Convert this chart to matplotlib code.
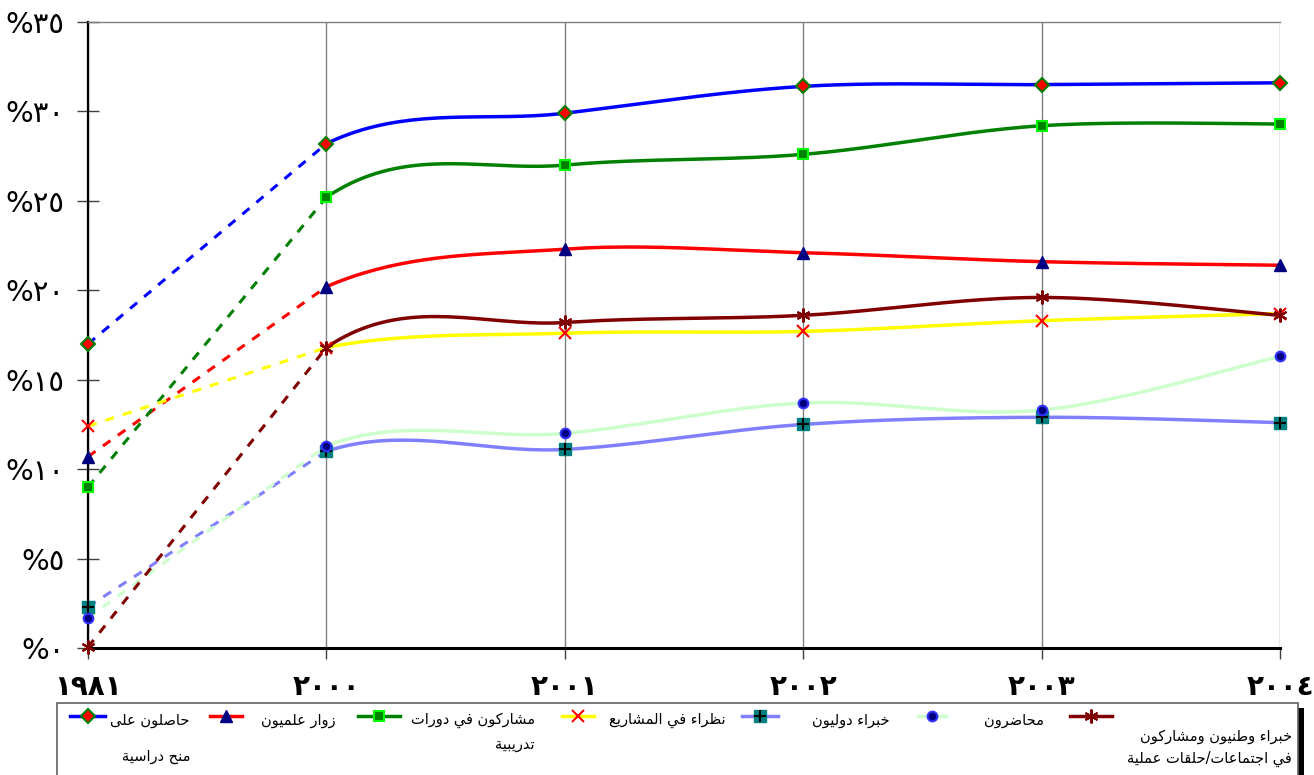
import numpy as np
import matplotlib
matplotlib.use("Agg")
import matplotlib.pyplot as plt
from matplotlib.lines import Line2D
from matplotlib.patches import Rectangle

# --- data -----------------------------------------------------------------
years = ["١٩٨١", "٢٠٠٠", "٢٠٠١", "٢٠٠٢", "٢٠٠٣", "٢٠٠٤"]

scholarship = [17.0, 28.2, 29.9, 31.4, 31.5, 31.6]
visitors = [10.7, 20.2, 22.3, 22.1, 21.6, 21.4]
training = [9.0, 25.2, 27.0, 27.6, 29.2, 29.3]
counterparts = [12.4, 16.8, 17.6, 17.7, 18.3, 18.7]
intl_experts = [2.3, 11.0, 11.1, 12.5, 12.9, 12.6]
lecturers = [1.7, 11.3, 12.0, 13.7, 13.3, 16.3]
national = [0.05, 16.8, 18.2, 18.6, 19.6, 18.6]

labels = [
    ["حاصلون على", "منح دراسية"],
    ["زوار علميون"],
    ["مشاركون في دورات", "تدريبية"],
    ["نظراء في المشاريع"],
    ["خبراء دوليون"],
    ["محاضرون"],
    ["خبراء وطنيون ومشاركون", "في اجتماعات/حلقات عملية"],
]

y_ticks = [0, 5, 10, 15, 20, 25, 30, 35]
y_tick_labels = ["%٠", "%٥", "%١٠", "%١٥", "%٢٠", "%٢٥", "%٣٠", "%٣٥"]

# --- minimal arabic shaping (matplotlib has no bidi / joining) -------------
_FORMS = {}
_dual = {"ئ": 0xFE89, "ب": 0xFE8F, "ت": 0xFE95, "ث": 0xFE99, "ج": 0xFE9D,
         "ح": 0xFEA1, "خ": 0xFEA5, "س": 0xFEB1, "ش": 0xFEB5, "ص": 0xFEB9,
         "ض": 0xFEBD, "ط": 0xFEC1, "ظ": 0xFEC5, "ع": 0xFEC9, "غ": 0xFECD,
         "ف": 0xFED1, "ق": 0xFED5, "ك": 0xFED9, "ل": 0xFEDD, "م": 0xFEE1,
         "ن": 0xFEE5, "ه": 0xFEE9, "ي": 0xFEF1}
_right = {"آ": 0xFE81, "أ": 0xFE83, "ؤ": 0xFE85, "إ": 0xFE87, "ا": 0xFE8D,
          "ة": 0xFE93, "د": 0xFEA9, "ذ": 0xFEAB, "ر": 0xFEAD, "ز": 0xFEAF,
          "و": 0xFEED, "ى": 0xFEEF}
for ch, c in _dual.items():
    _FORMS[ch] = (chr(c), chr(c + 1), chr(c + 2), chr(c + 3))
for ch, c in _right.items():
    _FORMS[ch] = (chr(c), chr(c + 1), None, None)
_FORMS["ء"] = ("\uFE80", None, None, None)


def shape(text):
    out = []
    n = len(text)
    for i, ch in enumerate(text):
        if ch not in _FORMS:
            out.append(ch)
            continue
        prev = text[i - 1] if i > 0 else ""
        nxt = text[i + 1] if i < n - 1 else ""
        join_prev = prev in _dual and _FORMS[ch][1] is not None
        join_next = ch in _dual and nxt in _FORMS
        iso, fin, ini, med = _FORMS[ch]
        if join_prev and join_next:
            out.append(med)
        elif join_prev:
            out.append(fin)
        elif join_next:
            out.append(ini)
        else:
            out.append(iso)
    return "".join(out)[::-1]


def smooth(xs, ys, start=0, n=40):
    # excel-like smoothed line (catmull-rom as cubic bezier), from segment `start`
    p = np.column_stack([xs, ys]).astype(float)
    px, py = [], []
    for i in range(start, len(p) - 1):
        p0 = p[i - 1] if i > 0 else p[i]
        p1, p2 = p[i], p[i + 1]
        p3 = p[i + 2] if i + 2 < len(p) else p[i + 1]
        c1 = p1 + (p2 - p0) / 6.0
        c2 = p2 - (p3 - p1) / 6.0
        t = np.linspace(0, 1, n)[:, None]
        b = (1 - t) ** 3 * p1 + 3 * (1 - t) ** 2 * t * c1 + 3 * (1 - t) * t ** 2 * c2 + t ** 3 * p2
        px.extend(b[:, 0])
        py.extend(b[:, 1])
    return px, py


series = [
    (scholarship, "#0000FF", dict(marker="D", mfc="#FF0000", mec="#008000", ms=7, mew=1.5)),
    (visitors, "#FF0000", dict(marker="^", mfc="#000080", mec="#000080", ms=8)),
    (training, "#008000", dict(marker="s", mfc="#008000", mec="#00FF00", ms=7, mew=1.5)),
    (counterparts, "#FFFF00", dict(marker="x", mfc="#FF0000", mec="#FF0000", ms=9, mew=1.5)),
    (intl_experts, "#8080FF", dict(marker="s", mfc="#008080", mec="#008080", ms=8)),
    (lecturers, "#CCFFCC", dict(marker="o", mfc="#000080", mec="#3333FF", ms=7, mew=1.5)),
    (national, "#800000", dict(marker=(6, 2, 0), mfc="#800000", mec="#800000", ms=10, mew=1.5)),
]

fig = plt.figure(figsize=(13.14, 7.75), dpi=100)
ax = fig.add_axes([88 / 1314, 1 - 648 / 775, (1280 - 88) / 1314, (648 - 22) / 775])

x = np.arange(len(years))
for k, (vals, col, mk) in enumerate(series):
    z = 3 + k * 0.1
    ax.plot(x[:2], vals[:2], color=col, lw=2.2, ls=(0, (3, 3)), zorder=z)
    sx, sy = smooth(x, vals, start=1)
    ax.plot(sx, sy, color=col, lw=2.5, zorder=z, solid_capstyle="butt")
    ax.plot(x, vals, ls="none", zorder=z + 2, clip_on=False, **mk)
    if col == "#8080FF":
        ax.plot(x, vals, ls="none", marker="+", color="black", ms=9, mew=1.5,
                zorder=z + 2.05, clip_on=False)

ax.set_xlim(0, len(years) - 1)
ax.set_ylim(0, 35)
ax.set_xticks(x)
ax.set_xticklabels(years, fontsize=20, fontweight="bold", family="DejaVu Sans")
ax.set_yticks(y_ticks)
ax.set_yticklabels(y_tick_labels, fontsize=21, family="DejaVu Sans")
ax.tick_params(axis="y", direction="inout", length=16, width=1, color="#404040", pad=9)
ax.tick_params(axis="x", direction="out", length=8, width=1, color="#404040", pad=10)
ax.grid(axis="x", color="#808080", lw=1)
ax.set_axisbelow(True)
ax.spines["top"].set_color("#808080")
ax.spines["top"].set_linewidth(1)
ax.spines["right"].set_visible(False)
ax.spines["left"].set_linewidth(1.6)
ax.spines["bottom"].set_linewidth(2.2)

# --- legend box (drawn by hand, right-to-left labels) --------------------
W, H = 1314, 775
fig.patches.append(Rectangle((1298 / W, 0), 6 / W, (H - 708) / H, transform=fig.transFigure,
                             facecolor="black", edgecolor="none", zorder=1))
fig.patches.append(Rectangle((57 / W, -0.01), (1298 - 57) / W, (H - 703) / H + 0.01,
                             transform=fig.transFigure, facecolor="white",
                             edgecolor="#606060", lw=1.2, zorder=2))

handle_x = [(70, 105), (210, 242), (358, 400), (562, 594), (742, 778), (918, 946), (1070, 1112)]
text_right = [190, 336, 535, 726, 890, 1044, 1292]
line_y = [720, 720, 720, 720, 720, 720, 736]
second_y = [757, 745, 745, 745, 745, 745, 759]

for k, (vals, col, mk) in enumerate(series):
    x0, x1 = handle_x[k]
    hy = 1 - 716 / H
    fig.add_artist(Line2D([x0 / W, x1 / W], [hy, hy], transform=fig.transFigure,
                          color=col, lw=2.5, zorder=5))
    fig.add_artist(Line2D([(x0 + x1) / 2 / W], [hy], transform=fig.transFigure,
                          ls="none", zorder=6, **mk))
    if col == "#8080FF":
        fig.add_artist(Line2D([(x0 + x1) / 2 / W], [hy], transform=fig.transFigure,
                              ls="none", marker="+", color="black", ms=9, mew=1.5, zorder=7))
    lines = labels[k]
    fig.text(text_right[k] / W, 1 - line_y[k] / H, shape(lines[0]), ha="right", va="center",
             fontsize=10.5, family="DejaVu Sans", zorder=6)
    if len(lines) > 1:
        fig.text(text_right[k] / W, 1 - second_y[k] / H, shape(lines[1]), ha="right",
                 va="center", fontsize=10.5, family="DejaVu Sans", zorder=6)

fig.savefig("out.png", dpi=100)
